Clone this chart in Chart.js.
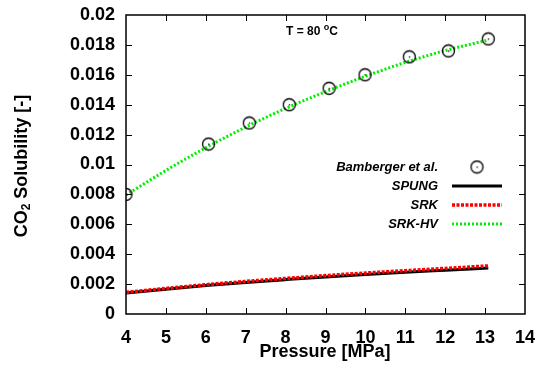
<!DOCTYPE html>
<html><head><meta charset="utf-8">
<script src="https://cdn.jsdelivr.net/npm/chart.js@4/dist/chart.umd.min.js"></script>
<style>html,body{margin:0;padding:0;background:#fff}#wrap{width:540px;height:381px}</style>
</head><body><div id="wrap"><canvas id="c" width="540" height="381"></canvas></div>
<script>
// ---- data ----
const expPressure = [4.0, 6.07, 7.09, 8.09, 9.09, 9.99, 11.1, 12.08, 13.08];
const expSolubility = [0.0080, 0.01137, 0.01278, 0.0140, 0.0151, 0.0160, 0.0172, 0.0176, 0.0184];
const modelPressure = [4, 5, 6, 7, 8, 9, 10, 11, 12, 13.08];
const spungSolubility = [0.00140, 0.00166, 0.00190, 0.00211, 0.00230, 0.00248, 0.00264, 0.00279, 0.00293, 0.00308];
const srkSolubility   = [0.00145, 0.00171, 0.00196, 0.00218, 0.00238, 0.00257, 0.00274, 0.00290, 0.00305, 0.00322];
const srkhvSolubility = [0.00796, 0.00960, 0.01112, 0.01250, 0.01375, 0.01487, 0.01590, 0.01683, 0.01762, 0.01833];
const xTickLabels = ['4','5','6','7','8','9','10','11','12','13','14'];
const yTickLabels = ['0','0.002','0.004','0.006','0.008','0.01','0.012','0.014','0.016','0.018','0.02'];
const seriesLabels = ['Bamberger et al.', 'SPUNG', 'SRK', 'SRK-HV'];
const titleText = 'T = 80';
const xTitle = 'Pressure [MPa]';

const FONT = '"Liberation Sans", Arial, Helvetica, sans-serif';

// circle-with-dot marker
function makeMarker(){
  const c = document.createElement('canvas');
  c.width = 15; c.height = 15;
  const g = c.getContext('2d');
  g.strokeStyle = '#000'; g.lineWidth = 1.3;
  g.beginPath(); g.arc(7.5, 7.5, 6, 0, Math.PI*2); g.stroke();
  g.fillStyle = '#000'; g.fillRect(7, 7, 1.3, 1.3);
  return c;
}
const marker = makeMarker();

const pairs = (xs, ys) => xs.map((x, i) => ({x, y: ys[i]}));

const decor = {
  id: 'decor',
  afterDatasetsDraw(chart){
    const {ctx, chartArea: a, scales: {x, y}} = chart;
    ctx.save();
    // inward ticks
    ctx.strokeStyle = '#000'; ctx.lineWidth = 1;
    const tl = 6;
    for (let v = 5; v <= 13; v++){
      const px = Math.round(x.getPixelForValue(v)) + 0.5;
      ctx.beginPath(); ctx.moveTo(px, a.bottom); ctx.lineTo(px, a.bottom - tl); ctx.stroke();
      ctx.beginPath(); ctx.moveTo(px, a.top); ctx.lineTo(px, a.top + tl); ctx.stroke();
    }
    for (let i = 1; i < yTickLabels.length - 1; i++){
      const py = Math.round(y.getPixelForValue(i * 0.002)) + 0.5;
      ctx.beginPath(); ctx.moveTo(a.left, py); ctx.lineTo(a.left + tl, py); ctx.stroke();
      ctx.beginPath(); ctx.moveTo(a.right, py); ctx.lineTo(a.right - tl, py); ctx.stroke();
    }
    // frame
    ctx.lineWidth = 1.5;
    ctx.strokeRect(a.left, a.top, a.right - a.left, a.bottom - a.top);

    // top annotation
    ctx.fillStyle = '#000';
    ctx.textBaseline = 'alphabetic';
    ctx.font = 'bold 12px ' + FONT;
    const w1 = ctx.measureText(titleText + ' ').width;
    ctx.font = 'bold 9px ' + FONT;
    const w2 = ctx.measureText('o').width;
    ctx.font = 'bold 12px ' + FONT;
    const w3 = ctx.measureText('C').width;
    let tx = 312 - (w1 + w2 + w3) / 2;
    const ty = 35;
    ctx.textAlign = 'left';
    ctx.fillText(titleText + ' ', tx, ty);
    ctx.font = 'bold 9px ' + FONT;
    ctx.fillText('o', tx + w1, ty - 5);
    ctx.font = 'bold 12px ' + FONT;
    ctx.fillText('C', tx + w1 + w2, ty);

    // legend
    const ds = chart.data.datasets;
    const rows = [167, 186, 205, 224];
    const textRight = 438, s0 = 452, s1 = 502;
    ctx.font = 'italic bold 13px ' + FONT;
    ctx.textAlign = 'right'; ctx.textBaseline = 'middle';
    seriesLabels.forEach((lab, i) => {
      ctx.fillStyle = '#000';
      ctx.fillText(lab, textRight, rows[i]);
      const d = ds.find(dd => dd.label === lab);
      if (i === 0){
        ctx.drawImage(marker, (s0 + s1) / 2 - 7.5, rows[i] - 7.5);
      } else {
        ctx.save();
        ctx.strokeStyle = d.borderColor; ctx.lineWidth = d.borderWidth;
        ctx.setLineDash(d.borderDash || []);
        ctx.beginPath(); ctx.moveTo(s0, rows[i]); ctx.lineTo(s1, rows[i]); ctx.stroke();
        ctx.restore();
      }
    });

    // x title
    ctx.font = 'bold 18px ' + FONT;
    ctx.textAlign = 'center'; ctx.textBaseline = 'middle';
    ctx.fillText(xTitle, 325, 352);

    // y title with subscript
    ctx.translate(22, 0);
    ctx.rotate(-Math.PI / 2);
    ctx.textAlign = 'left'; ctx.textBaseline = 'middle';
    ctx.font = 'bold 18px ' + FONT;
    const a1 = ctx.measureText('CO').width;
    ctx.font = 'bold 12px ' + FONT;
    const a2 = ctx.measureText('2').width;
    ctx.font = 'bold 18px ' + FONT;
    const a3 = ctx.measureText(' Solubility [-]').width;
    const start = -(166 + (a1 + a2 + a3) / 2);
    ctx.fillText('CO', start, 0);
    ctx.font = 'bold 12px ' + FONT;
    ctx.fillText('2', start + a1, 5);
    ctx.font = 'bold 18px ' + FONT;
    ctx.fillText(' Solubility [-]', start + a1 + a2, 0);
    ctx.restore();
  }
};

new Chart(document.getElementById('c'), {
  type: 'scatter',
  data: {
    datasets: [
      {label: seriesLabels[0], data: pairs(expPressure, expSolubility), showLine: false,
       pointStyle: marker, pointRadius: 6, order: 0},
      {label: seriesLabels[2], data: pairs(modelPressure, srkSolubility), showLine: true,
       borderColor: '#ff0000', borderWidth: 3.5, borderDash: [3, 1.5], pointRadius: 0,
       cubicInterpolationMode: 'monotone', order: 1},
      {label: seriesLabels[1], data: pairs(modelPressure, spungSolubility), showLine: true,
       borderColor: '#000000', borderWidth: 3, pointRadius: 0,
       cubicInterpolationMode: 'monotone', order: 2},
      {label: seriesLabels[3], data: pairs(modelPressure, srkhvSolubility), showLine: true,
       borderColor: '#00ee00', borderWidth: 3, borderDash: [2, 2], pointRadius: 0,
       cubicInterpolationMode: 'monotone', order: 3}
    ]
  },
  options: {
    responsive: false, animation: false,
    layout: {padding: {top: 15, right: 15, left: 0, bottom: 0}},
    plugins: {legend: {display: false}, tooltip: {enabled: false}},
    scales: {
      x: {type: 'linear', min: 4, max: 14,
          grid: {display: false, drawTicks: false}, border: {display: false},
          ticks: {stepSize: 1, padding: 13, color: '#000', font: {family: FONT, size: 18, weight: 'bold'},
                  callback: (v, i) => xTickLabels[i]},
          afterFit: s => { s.height = 67; s.paddingLeft = 0; s.paddingRight = 0; }},
      y: {type: 'linear', min: 0, max: 0.02,
          grid: {display: false, drawTicks: false}, border: {display: false},
          ticks: {stepSize: 0.002, padding: 11, color: '#000', font: {family: FONT, size: 18, weight: 'bold'},
                  callback: (v, i) => yTickLabels[i]},
          afterFit: s => { s.width = 126; s.paddingTop = 0; s.paddingBottom = 0; }}
    }
  },
  plugins: [decor]
});
</script></body></html>
